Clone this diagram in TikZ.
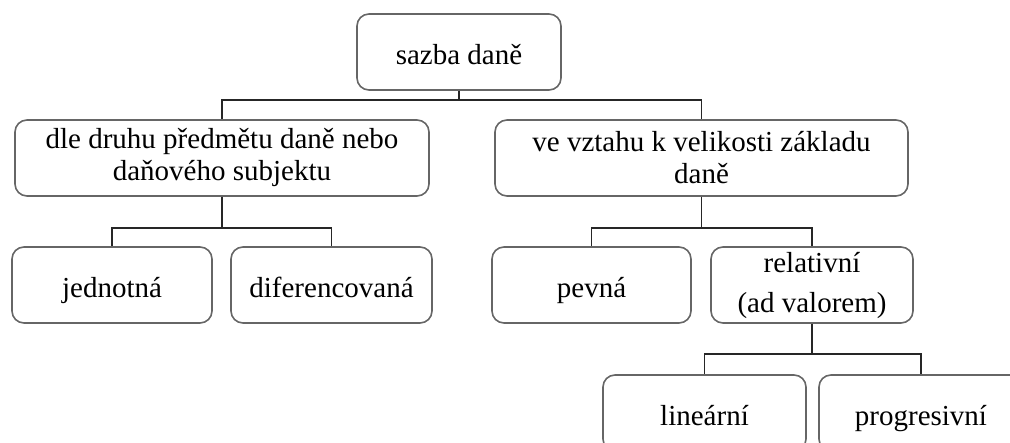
\documentclass[tikz,border=0pt]{standalone}
\usepackage{fontspec}
\setmainfont{Liberation Serif}
\usetikzlibrary{calc}
\begin{document}
\begin{tikzpicture}[x=1pt,y=-1pt,
  box/.style={draw=black!60, line width=1.6pt, rounded corners=12pt, minimum height=76pt,
    align=center, inner sep=0pt, font=\fontsize{29}{32}\selectfont, text=black},
  one/.style={text height=27pt, text depth=2pt},
  conn/.style={draw=black!85, line width=1.5pt}]
\useasboundingbox (0,0) rectangle (1010,443);
\clip (0,0) rectangle (1010,443);
\node[box, one, minimum width=204pt] (top) at (459,52) {sazba daně};
\node[box, minimum width=414pt] (b2) at (222,158) {dle druhu předmětu daně nebo\\daňového subjektu};
\node[box, minimum width=413pt] (b3) at (701.5,158) {ve vztahu k velikosti základu\\daně};
\node[box, one, minimum width=200pt] (jed) at (112,285) {jednotná};
\node[box, one, minimum width=201pt] (dif) at (331.5,285) {diferencovaná};
\node[box, one, minimum width=199pt] (pev) at (591.5,285) {pevná};
\node[box, text height=66pt, text depth=10pt, minimum width=202pt] (rel) at (812,285) {relativní\\[8pt](ad valorem)};
\node[box, one, minimum width=203pt] (lin) at (704.5,413) {lineární};
\node[box, one, minimum width=204pt] (pro) at (921,413) {progresivní};
\draw[conn] (top.south) -- ++(0,9) -| (b2.north);
\draw[conn] (top.south) -- ++(0,9) -| (b3.north);
\draw[conn] (b2.south) -- ++(0,31) -| (jed.north);
\draw[conn] (b2.south) -- ++(0,31) -| (dif.north);
\draw[conn] (b3.south) -- ++(0,31) -| (pev.north);
\draw[conn] (b3.south) -- ++(0,31) -| (rel.north);
\draw[conn] (rel.south) -- ++(0,30) -| (lin.north);
\draw[conn] (rel.south) -- ++(0,30) -| (pro.north);
\end{tikzpicture}
\end{document}
